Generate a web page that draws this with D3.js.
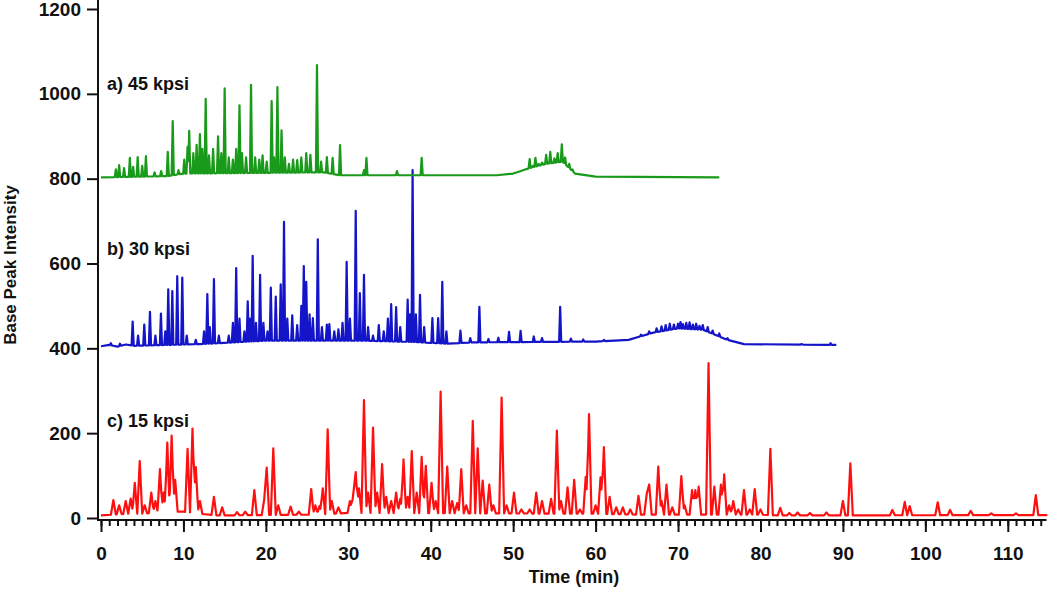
<!DOCTYPE html>
<html>
<head>
<meta charset="utf-8">
<script src="https://cdn.jsdelivr.net/npm/d3@7"></script>
<style>
  body { margin: 0; background: #fff; }
  text { font-family: "Liberation Sans", Arial, sans-serif; font-weight: bold; fill: #111; }
</style>
</head>
<body>
<svg id="chart" width="1050" height="589"></svg>
<script>
// ---- data ----
// peaks are [time (min), apex intensity], baselines are [time, intensity] knots
var peaks45 = [[1.8,822],[2.2,832],[2.8,825],[3.5,849],[3.9,828],[4.45,851],[5.0,830],[5.45,853],[6.5,815],[7.3,818],
  [8.1,863],[8.7,936],[9.4,820],[10.1,845],[10.5,875],[10.7,913],[11.2,860],[11.6,880],[12.0,905],[12.3,870],
  [12.7,988],[13.1,855],[13.6,870],[14.2,900],[14.6,860],[15.0,1013],[15.5,850],[16.0,845],[16.4,870],[16.8,973],
  [17.1,860],[17.6,850],[18.2,1021],[18.7,850],[19.2,845],[19.6,855],[20.1,840],[20.7,983],[21.0,850],[21.4,1016],
  [21.9,914],[22.3,850],[22.8,835],[23.3,845],[23.8,844],[24.3,850],[24.9,860],[25.4,856],[26.2,1068],[26.7,840],
  [27.4,851],[28.1,849],[29.0,879],[31.9,820],[32.2,849],[35.9,818],[38.9,849],
  [51.0,815],[51.5,822],[52.0,846],[52.4,830],[52.7,849],[53.1,835],[53.5,838],[54.0,856],[54.5,863],[55.0,848],
  [55.4,860],[55.9,881],[56.3,850],[56.8,835],[57.2,822]];
var base45 = [[0,803],[8,806],[10,812],[27,815],[29,808],[48,808],[50,812],[52,825],[54,835],[56,840],[57.5,812],[60,805],[75,803]];

var peaks30 = [[1.2,412],[2.3,411],[3.84,463],[4.5,430],[5.25,456],[5.94,486],[6.6,430],[7.27,482],[7.8,440],[8.16,539],
  [8.65,535],[9.25,570],[9.86,567],[10.4,430],[11.5,420],[12.5,440],[12.9,528],[13.2,450],[13.7,563],[14.3,430],
  [15.5,430],[16.0,460],[16.4,589],[16.8,470],[17.4,440],[17.8,511],[18.1,470],[18.4,618],[18.8,460],[19.3,573],
  [19.7,460],[20.2,440],[20.6,543],[21.2,522],[21.8,551],[22.2,698],[22.6,470],[23.2,478],[23.8,455],[24.3,500],
  [24.6,594],[24.9,557],[25.3,480],[25.7,471],[26.3,657],[26.8,450],[27.4,456],[27.7,457],[28.3,440],[28.8,445],
  [29.3,460],[29.8,604],[30.2,470],[30.9,724],[31.4,530],[31.9,573],[32.4,450],[33.0,430],[33.7,455],[34.3,440],
  [34.8,470],[35.2,504],[35.8,497],[36.3,450],[37.2,515],[37.5,480],[37.8,820],[38.2,480],[38.7,526],[39.2,450],
  [40.2,471],[40.9,471],[41.4,557],[41.9,440],[43.6,442],[44.8,424],[45.9,498],[47.0,422],[48.2,425],[49.5,439],
  [50.9,441],[52.5,428],[53.5,424],[55.7,498],[57.0,423],[58.5,421],[61.0,420],
  [65.5,432],[66.5,440],[67.4,447],[68.0,452],[68.5,455],[69.0,458],[69.5,456],[70.0,458],[70.3,462],[70.6,457],
  [71.0,460],[71.4,461],[71.8,456],[72.2,458],[72.6,453],[73.0,455],[73.6,450],[74.2,442],[75.0,435],[76.0,424],
  [85.0,410],[88.5,412]];
var base30 = [[0,405],[1,408],[2,404],[3,409],[4,406],[12,410],[20,418],[32,418],[38,415],[42,411],[45,414],[60,416],
  [64,420],[67,437],[70,447],[73,444],[76,420],[78,410],[89.2,408]];

var peaks15 = [[1.5,42],[2.2,30],[3.0,40],[3.6,46],[4.1,83],[4.7,134],[5.3,30],[6.1,60],[6.6,40],[7.15,115],[7.6,60],
  [8.04,178],[8.57,194],[9.0,90],[10.5,163],[11.1,211],[11.5,120],[12.0,40],[13.7,50],[14.7,25],[16.5,14],[17.5,15],
  [18.6,66],[19.8,44],[20.1,119],[20.9,164],[21.5,30],[23.0,27],[24.0,15],[25.5,68],[26.0,30],[26.5,28],[26.9,70],
  [27.5,209],[28.0,40],[28.8,25],[30.2,40],[30.6,56],[30.9,108],[31.3,70],[31.9,278],[32.4,60],[33.0,213],[33.5,60],
  [34.1,127],[34.6,50],[35.2,40],[35.8,60],[36.3,45],[36.7,138],[37.2,50],[37.7,158],[38.3,60],[38.9,144],[39.4,123],
  [40.1,83],[40.6,40],[41.2,298],[42.0,121],[42.6,40],[43.2,35],[43.7,115],[44.3,30],[45.1,229],[45.7,164],[46.3,88],
  [47.1,79],[47.6,30],[48.6,284],[49.2,30],[50.1,60],[51.0,20],[52.0,20],[52.8,60],[53.5,40],[54.6,45],[55.3,206],
  [55.8,40],[56.6,72],[57.4,90],[58.1,20],[58.8,97],[59.2,245],[60.0,30],[60.6,96],[61.0,167],[61.7,50],[62.5,25],
  [63.3,25],[64.2,20],[65.2,52],[66.2,57],[66.5,79],[67.6,121],[68.0,40],[68.6,79],[69.3,25],[70.4,99],[70.8,30],
  [71.7,66],[72.1,66],[72.5,74],[73.7,365],[74.4,74],[75.2,79],[75.6,103],[76.2,30],[76.7,40],[77.3,20],[78.0,66],
  [78.7,20],[79.3,68],[80.0,20],[81.2,163],[82.4,24],[83.5,12],[84.5,13],[86.0,12],[88.0,13],[90.0,40],[90.9,129],
  [96.0,19],[97.5,38],[98.1,28],[101.5,37],[103.0,19],[105.5,17],[108.0,11],[111.0,11],[113.4,54]];
var base15 = [[0,6],[3,10],[5,10],[8,15],[10,15],[12,10],[14,6],[26,8],[30,12],[60,10],[65,8],[80,8],[82,6],[114.8,7]];

var traceLabels = ["a) 45 kpsi", "b) 30 kpsi", "c) 15 kpsi"];
var labelLevels = [1010, 620, 215];          // intensity at the label baseline
var traceColors = ["#1a9a1a", "#1414c8", "#ff1010"];
var peakHalfWidth = [0.13, 0.13, 0.3];       // minutes

var yTicks = [0, 200, 400, 600, 800, 1000, 1200];
var xTickLabels = [0, 10, 20, 30, 40, 50, 60, 70, 80, 90, 100, 110];

// ---- scales ----
var svg = d3.select("#chart");
var x = d3.scaleLinear().domain([0, 115]).range([101, 1049]);
var y = d3.scaleLinear().domain([0, 1200]).range([518, 9]);

// build trace points: baseline knots plus the foot/apex of every peak
function buildTrace(peaks, base, hw) {
  var bs = d3.scaleLinear().domain(base.map(d => d[0])).range(base.map(d => d[1])).clamp(true);
  var t0 = base[0][0], t1 = base[base.length - 1][0];
  var times = base.map(d => d[0]);
  peaks.forEach(p => { times.push(p[0] - hw, p[0], p[0] + hw); });
  times = Array.from(new Set(times.filter(t => t >= t0 && t <= t1))).sort((a, b) => a - b);
  return times.map(t => {
    var v = bs(t);
    peaks.forEach(p => {
      var k = 1 - Math.abs(t - p[0]) / hw;
      if (k > 0) v = Math.max(v, bs(t) + (p[1] - bs(p[0])) * k);
    });
    return [t, v];
  });
}

var traces = [
  buildTrace(peaks45, base45, peakHalfWidth[0]),
  buildTrace(peaks30, base30, peakHalfWidth[1]),
  buildTrace(peaks15, base15, peakHalfWidth[2])
];

var line = d3.line().x(d => x(d[0])).y(d => y(d[1]));

// draw red first so that green/blue sit on top like the original
[2, 1, 0].forEach(i => {
  svg.append("path")
    .attr("d", line(traces[i]))
    .attr("fill", "none")
    .attr("stroke", traceColors[i])
    .attr("stroke-width", 2.2)
    .attr("stroke-linejoin", "round");
});

traceLabels.forEach((s, i) => {
  svg.append("text")
    .attr("x", 107)
    .attr("y", y(labelLevels[i]))
    .style("font-size", "18px")
    .text(s);
});

// ---- axes ----
var xMinor = svg.append("g").attr("transform", "translate(0,520)")
  .call(d3.axisBottom(x).tickValues(d3.range(0, 115, 1)).tickSize(6).tickFormat(""));
var xMajor = svg.append("g").attr("transform", "translate(0,520)")
  .call(d3.axisBottom(x).tickValues(xTickLabels).tickSize(12).tickPadding(15).tickFormat(d3.format("d")));
var yAx = svg.append("g").attr("transform", "translate(98,0)")
  .call(d3.axisLeft(y).tickValues(yTicks).tickSize(11).tickPadding(6).tickFormat(d3.format("d")));

[xMinor, xMajor, yAx].forEach(g => {
  g.select(".domain").remove();
  g.selectAll("line").attr("stroke", "#111").attr("stroke-width", 2);
  g.selectAll("text").style("font-size", "19px").style("font-family", "'Liberation Sans', Arial, sans-serif")
    .style("font-weight", "bold").attr("fill", "#111");
});

svg.append("line").attr("x1", 98).attr("x2", 98).attr("y1", 0).attr("y2", 521)
  .attr("stroke", "#111").attr("stroke-width", 2);
svg.append("line").attr("x1", 97).attr("x2", x(114.7)).attr("y1", 520).attr("y2", 520)
  .attr("stroke", "#111").attr("stroke-width", 2);

svg.append("text")
  .attr("x", 574).attr("y", 583)
  .attr("text-anchor", "middle")
  .style("font-size", "18px")
  .text("Time (min)");

svg.append("text")
  .attr("transform", "translate(16,265) rotate(-90)")
  .attr("text-anchor", "middle")
  .style("font-size", "17px")
  .text("Base Peak Intensity");
</script>
</body>
</html>
